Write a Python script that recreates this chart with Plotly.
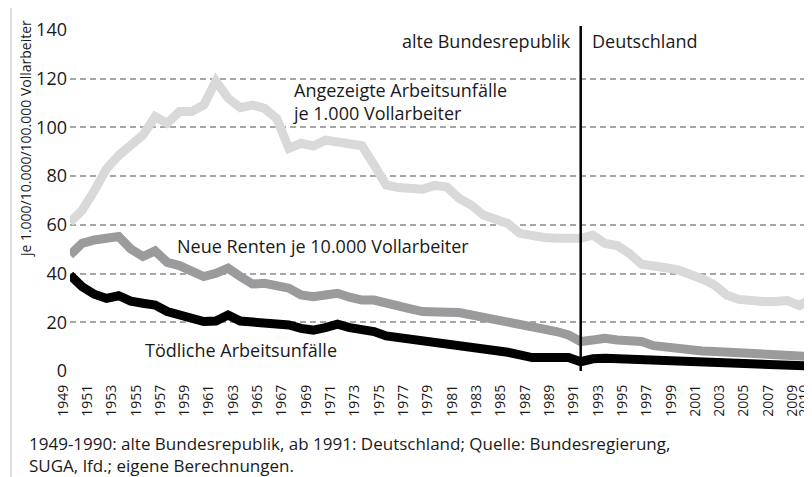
import plotly.graph_objects as go

years = list(range(1949, 2011))

angezeigte = [61, 66, 74, 83, 88.5, 92.8, 96.9, 104.4, 101.7, 106.5,
              106.5, 109.2, 119, 112, 108.1, 109.2, 107.8, 103.7, 91.4, 93.5,
              92.4, 94.8, 94.2, 92.8, 92.5, 84.6, 76.4, 75.3, 75, 74.6,
              76.2, 75.5, 70.9, 68.1, 64, 62, 60.6, 56.5, 55.2, 54.8,
              54.5, 54.5, 54.5, 55.8, 52.4, 51.5, 48.3, 43.8, 42.7, 42.4,
              41.5, 40.1, 37.8, 35.3, 31.2, 29.4, 28.5, 28.5, 28.5, 28.9,
              26.8, 29.8]

renten = [47.6, 52.4, 53.8, 54.2, 55.2, 50.1, 47, 49.3, 44.6, 43.3,
          41.1, 38.8, 40.1, 42.2, 38.8, 35.7, 36, 35.3, 34, 31.2,
          30.5, 31.2, 31.9, 30.3, 29.1, 29.1, 27.8, 26, 25.5, 24.4,
          24.6, 24.1, 24, 23, 21.9, 21.3, 20.8, 19.2, 18.2, 17.2,
          16.2, 14.8, 12.1, 12.7, 13.4, 12.7, 12.5, 12.1, 10.4, 9.7,
          9.3, 8.8, 8.2, 8, 7.7, 7.4, 7.1, 6.7, 6.3, 6.3,
          6.2, 5.9]

toedliche = [39.4, 34.6, 31.5, 29.8, 30.9, 28.7, 27.8, 27.1, 24.4, 23.3,
             21.9, 20.3, 20.5, 23, 20.5, 20.3, 20, 19.9, 18.9, 17.5,
             16.8, 17.8, 19.2, 17.8, 17.2, 16.2, 14.4, 13.8, 13.1, 12.6,
             12.1, 11.2, 10.5, 9.9, 9.2, 8.5, 7.7, 6.6, 5.5, 5.5,
             5.8, 5.5, 3.8, 5.0, 5.2, 5.0, 4.8, 4.5, 4.3, 4.1,
             4.0, 3.8, 3.4, 3.3, 3.2, 3.0, 2.8, 2.6, 2.5, 2.3,
             2.1, 2.0]

tick_years = list(range(1949, 2010, 2)) + [2010]
tick_text = [str(y) for y in tick_years]
y_ticks = [0, 20, 40, 60, 80, 100, 120, 140]

FONT = "Open Sans"
TXT = "#1a1a1a"

fig = go.Figure()
fig.add_trace(go.Scatter(x=years, y=angezeigte, mode="lines",
                         line=dict(color="#d9d9da", width=9),
                         hoverinfo="skip"))
fig.add_trace(go.Scatter(x=years, y=renten, mode="lines",
                         line=dict(color="#9b9b9d", width=9),
                         hoverinfo="skip"))
fig.add_trace(go.Scatter(x=years, y=toedliche, mode="lines",
                         line=dict(color="#000000", width=9),
                         hoverinfo="skip"))

fig.update_layout(
    width=812, height=477,
    margin=dict(l=62, r=0, t=22, b=114),
    paper_bgcolor="white", plot_bgcolor="white",
    showlegend=False,
    font=dict(family=FONT, color=TXT),
    xaxis=dict(range=[1949, 2010.68], tickvals=tick_years, ticktext=tick_text,
               tickangle=-90, showgrid=False, zeroline=False, showline=False,
               ticks="", tickfont=dict(size=14, color=TXT, family=FONT),
               ticklabelshift=-7, ticklabelstandoff=10),
    yaxis=dict(range=[0, 140], tickvals=y_ticks, showgrid=True,
               gridcolor="#a6a6a6", gridwidth=2, griddash="6px,4px",
               zeroline=False, showline=False, ticks="",
               tickfont=dict(size=18, color=TXT, family=FONT),
               ticklabelstandoff=2),
)

# vertical separator at 1991
fig.add_shape(type="line", xref="x", yref="paper", x0=1991, x1=1991,
              y0=0.0, y1=1.012, line=dict(color="black", width=2.5))
# left frame line
fig.add_shape(type="line", xref="paper", yref="paper", x0=-0.0787, x1=-0.0787,
              y0=-0.34, y1=1.07, line=dict(color="#dddddd", width=2))

ann = [
    dict(x=1990.4, y=135.3, text="alte Bundesrepublik", xanchor="right"),
    dict(x=1991.76, y=135.3, text="Deutschland", xanchor="left"),
    dict(x=1967.17, y=110.5, text="Angezeigte Arbeitsunfälle<br>je 1.000 Vollarbeiter",
         xanchor="left", align="left"),
    dict(x=1957.63, y=51.2, text="Neue Renten je 10.000 Vollarbeiter", xanchor="left"),
    dict(x=1955.0, y=8.5, text="Tödliche Arbeitsunfälle", xanchor="left"),
]
for a in ann:
    fig.add_annotation(xref="x", yref="y", showarrow=False, yanchor="middle",
                       font=dict(size=18, color=TXT, family=FONT), **a)

fig.add_annotation(xref="paper", yref="paper", x=-0.06, y=0.68,
                   text="je 1.000/10.000/100.000 Vollarbeiter", textangle=-90,
                   showarrow=False, xanchor="center", yanchor="middle",
                   font=dict(size=14, color=TXT, family=FONT))

fig.add_annotation(xref="paper", yref="paper", x=-0.058, y=-0.246,
                   text="1949-1990: alte Bundesrepublik, ab 1991: Deutschland; Quelle: Bundesregierung,<br>SUGA, lfd.; eigene Berechnungen.",
                   showarrow=False, xanchor="left", yanchor="middle", align="left",
                   font=dict(size=17, color=TXT, family=FONT))

fig.write_html("out.html")
